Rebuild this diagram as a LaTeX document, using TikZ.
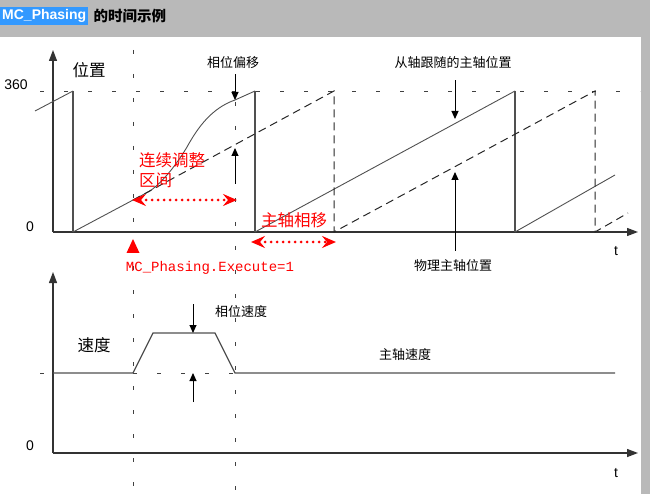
\documentclass[tikz,border=0pt]{standalone}
\usepackage{fontspec}
\setmainfont{Liberation Sans}
\setmonofont{Liberation Mono}
\newfontfamily\cjk{Noto Sans CJK SC}
\usetikzlibrary{positioning,arrows.meta,calc}
\definecolor{barback}{RGB}{185,185,185}
\definecolor{hlblue}{RGB}{51,153,255}
\definecolor{curvegray}{RGB}{80,80,80}

\begin{document}
\begin{tikzpicture}[x=1pt,y=-1pt,
  axis/.style={line width=1.3pt,draw=black!80,-{Triangle[length=11pt,width=8pt]}},
  guide/.style={black!75,line width=0.7pt,dash pattern=on 4pt off 20pt},
  slave/.style={curvegray,line width=0.9pt},
  drop/.style={curvegray,line width=1.4pt},
  master/.style={black!85,line width=1pt,dash pattern=on 8pt off 5pt},
  tip/.style={line width=1pt,-{Triangle[length=8pt,width=7pt]}},
  lbl/.style={font=\cjk\fontsize{13}{15}\selectfont,inner sep=1pt},
  big/.style={font=\cjk\fontsize{16.5}{19}\selectfont,inner sep=1pt},
  redlbl/.style={font=\cjk\fontsize{16.5}{19}\selectfont,text=red,inner sep=1pt},
  redarr/.style={red,line width=3pt,dash pattern=on 0pt off 6pt,line cap=round,
    {Stealth[length=14pt,width=12pt,inset=5pt]}-{Stealth[length=14pt,width=12pt,inset=5pt]}},
  num/.style={font=\fontsize{14}{16}\selectfont,inner sep=0pt}]
\useasboundingbox (0,0) rectangle (650,494);
\fill[barback] (0,0) rectangle (650,37);
\fill[barback] (641,37) rectangle (650,494);

% title
\node[fill=hlblue,text=white,font=\bfseries\fontsize{14}{16}\selectfont,inner sep=2pt,anchor=west] (ttl) at (0,16) {MC\_Phasing};
\node[font=\cjk\bfseries\fontsize{14.5}{16}\selectfont,inner sep=0pt,right=5pt of ttl] (ttlb) {的时间示例};

% guides
\draw[guide] (40,91) -- (640,91);
\draw[guide] (133,50) -- (133,494);
\draw[guide] (235,102) -- (235,494);
\draw[guide] (40,373) -- (53,373);
\draw[guide] (133,373) -- (235,373);

% position chart
\draw[axis] (53,232) -- (53,50);
\draw[axis] (53,232) -- (638,232);
\node[num] (p360) at (16,85) {360};
\node[num] (p0) at (30,227) {0};
\node[num] (pt) at (616,251) {t};
\node[big] (pos) at (89,70) {位置};

\draw[slave] (35,111) -- (73,91);
\draw[drop] (73,91) -- (73,232);
\draw[slave] (73,232) -- (150,191) .. controls (165,180) and (178,162) .. (187,147)
  .. controls (198,127) and (212,108) .. (235,100) -- (255,91);
\draw[drop] (255,91) -- (255,232);
\draw[slave] (255,232) -- (515,91);
\draw[drop] (515,91) -- (515,232);
\draw[slave] (515,232) -- (615,175);

\draw[master] (133,200) -- (334,91) -- (334,232) -- (595,91) -- (595,232) -- (628,213);

\node[lbl] (shift) at (233,63) {相位偏移};
\coordinate (shifttop) at (235,100);
\coordinate (shiftlow) at (235,148);
\coordinate (shiftfoot) at (235,184);
\draw[tip] (shift.south -| shifttop) ++(0,4) -- (shifttop);
\draw[tip] (shiftfoot) -- (shiftlow);

\node[lbl] (follow) at (453,63) {从轴跟随的主轴位置};
\coordinate (followtip) at (455,119);
\draw[tip] ($(follow.south -| followtip)+(0,10)$) -- (followtip);

\node[lbl] (phys) at (453,266) {物理主轴位置};
\coordinate (phystip) at (455,172);
\draw[tip] ($(phys.north -| phystip)+(0,-8)$) -- (phystip);

% red notes
\node[redlbl,anchor=north west,align=left] (zone) at (138,151) {连续调整\\[1pt]区间};
\coordinate (zoneL) at (132,200);
\coordinate (zoneR) at (237,200);
\draw[redarr] (zoneL) -- (zoneR);
\node[redlbl] (mshift) at (294,220) {主轴相移};
\coordinate (mshiftL) at (251,242);
\coordinate (mshiftR) at (336,242);
\draw[redarr] (mshiftL) -- (mshiftR);
\fill[red] (133,239) -- (139.5,253) -- (126.5,253) -- cycle;
\node[font=\ttfamily\fontsize{14}{16}\selectfont,text=red,inner sep=0pt] (exe) at (210,268) {MC\_Phasing.Execute=1};

% speed chart
\draw[axis] (53,453) -- (53,272);
\draw[axis] (53,453) -- (638,453);
\node[num] (v0) at (30,446) {0};
\node[num] (vt) at (616,473) {t};
\node[big] (spd) at (94,345) {速度};
\draw[slave,line width=1.3pt] (53,373) -- (133,373) -- (153,333) -- (215,333) -- (235,373) -- (615,373);

\node[lbl] (pspd) at (241,312) {相位速度};
\coordinate (pspdtop) at (193,304);
\coordinate (pspdhi) at (193,333);
\coordinate (pspdlow) at (193,373);
\coordinate (pspdfoot) at (193,402);
\draw[tip] (pspdtop) -- (pspdhi);
\draw[tip] (pspdfoot) -- (pspdlow);
\node[lbl] (mspd) at (405,355) {主轴速度};
\end{tikzpicture}
\end{document}
